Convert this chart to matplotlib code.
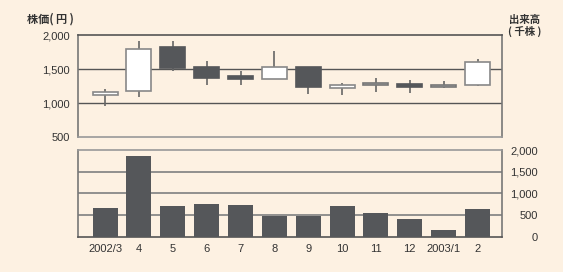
import matplotlib
matplotlib.use("Agg")
import matplotlib.pyplot as plt
import numpy as np

plt.rcParams['font.family'] = ['Liberation Sans', 'Noto Sans CJK JP', 'DejaVu Sans']

months = ["2002/3", "4", "5", "6", "7", "8", "9", "10", "11", "12", "2003/1", "2"]
open_p = [1125, 1177, 1830, 1535, 1395, 1358, 1525, 1225, 1260, 1284, 1237, 1270]
close_p = [1165, 1800, 1510, 1372, 1355, 1525, 1240, 1270, 1292, 1232, 1268, 1600]
high_p = [1200, 1910, 1910, 1620, 1470, 1765, 1525, 1295, 1370, 1340, 1328, 1643]
low_p = [955, 1095, 1470, 1260, 1260, 1355, 1130, 1120, 1160, 1143, 1222, 1250]
volume = [662, 1862, 708, 754, 731, 477, 477, 708, 546, 408, 154, 638]

bg = "#fdf1e2"
dark = "#55575a"
light = "#b4b4b4"

fig = plt.figure(figsize=(5.63, 2.72), dpi=100)
fig.patch.set_facecolor(bg)

ax1 = fig.add_axes([0.1385, 0.4963, 0.753, 0.375])
ax2 = fig.add_axes([0.1385, 0.1298, 0.753, 0.3187])

x = np.arange(len(months))
w = 0.74

# ローソク足
for i in x:
    o, c, h, l = open_p[i], close_p[i], high_p[i], low_p[i]
    lo, hi = min(o, c), max(o, c)
    if i in (8, 10):
        fc, ec = light, "#777777"
    elif c >= o:
        fc, ec = "white", "#888888"
    else:
        fc, ec = dark, dark
    ax1.vlines(i, l, lo, color="#666666", lw=1.2, zorder=2)
    ax1.vlines(i, hi, h, color="#666666", lw=1.2, zorder=2)
    ax1.bar(i, hi - lo, bottom=lo, width=w, color=fc, edgecolor=ec, lw=1.2, zorder=3)

fmt = matplotlib.ticker.FuncFormatter(lambda v, p: f"{v:,.0f}")

ax1.set_xlim(-0.8, 11.72)
ax1.set_ylim(500, 2000)
ax1.set_yticks([500, 1000, 1500, 2000])
ax1.yaxis.set_major_formatter(fmt)
ax1.set_xticks([])
for yv in [1000, 1500]:
    ax1.axhline(yv, color="#555555", lw=1.0, zorder=1)
ax1.set_facecolor(bg)
for s in ax1.spines.values():
    s.set_color("#777777")
    s.set_linewidth(1.2)
ax1.spines["top"].set_color("#555555")
ax1.spines["bottom"].set_color("#999999")
ax1.tick_params(axis="y", length=0, labelsize=8, colors="#333333", pad=6)

# 出来高
ax2.bar(x, volume, width=w, color=dark, zorder=3)
ax2.set_xlim(-0.8, 11.72)
ax2.set_ylim(0, 2000)
ax2.set_yticks([0, 500, 1000, 1500, 2000])
ax2.yaxis.set_major_formatter(fmt)
ax2.yaxis.tick_right()
ax2.set_xticks(x)
ax2.set_xticklabels(months)
for yv in [500, 1000, 1500]:
    ax2.axhline(yv, color="#888888", lw=1.3, zorder=1)
ax2.set_facecolor(bg)
for s in ax2.spines.values():
    s.set_color("#777777")
    s.set_linewidth(1.2)
ax2.spines["top"].set_color("#999999")
ax2.spines["bottom"].set_color("#555555")
ax2.tick_params(axis="y", length=0, labelsize=8, colors="#333333", pad=26)
for t in ax2.get_yticklabels():
    t.set_horizontalalignment("right")
ax2.tick_params(axis="x", length=0, labelsize=8, colors="#333333", pad=5)

fig.text(0.048, 0.93, "株価( 円 )", fontsize=8, fontweight="bold",
         family=["Noto Sans CJK JP"], color="#333333", va="center")
fig.text(0.932, 0.905, "出来高\n( 千株 )", fontsize=7.5, fontweight="bold",
         family=["Noto Sans CJK JP"], color="#333333", va="center", ha="center",
         linespacing=1.1)

fig.savefig("out.png", dpi=100, facecolor=bg)
